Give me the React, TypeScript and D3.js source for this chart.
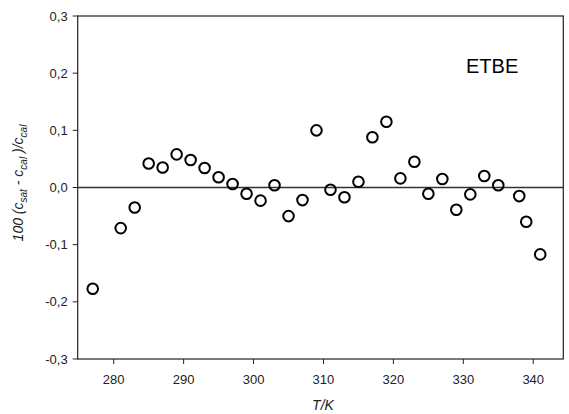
import React from "react";
import * as d3 from "d3";

const temperatures = [277, 281, 283, 285, 287, 289, 291, 293, 295, 297, 299, 301, 303, 305, 307, 309, 311, 313, 315, 317, 319, 321, 323, 325, 327, 329, 331, 333, 335, 338, 339, 341];
const deviations = [-0.177, -0.071, -0.035, 0.042, 0.035, 0.058, 0.048, 0.034, 0.018, 0.006, -0.011, -0.023, 0.004, -0.050, -0.022, 0.100, -0.004, -0.017, 0.010, 0.088, 0.115, 0.016, 0.045, -0.011, 0.015, -0.039, -0.012, 0.020, 0.004, -0.015, -0.060, -0.117];
const xTicks = [280, 290, 300, 310, 320, 330, 340];
const yTicks = [-0.3, -0.2, -0.1, 0.0, 0.1, 0.2, 0.3];
const label = "ETBE";

const W = 569;
const H = 414;
const left = 77.7;
const right = 563.3;
const top = 16;
const bottom = 359;

export default function App() {
  const x = d3.scaleLinear().domain([274.85, 344.3]).range([left, right]);
  const y = d3.scaleLinear().domain([-0.3, 0.3]).range([bottom, top]);
  const fmt = (v: number) => d3.format(".1f")(v).replace(".", ",").replace("−", "-");
  const font = "'Liberation Sans', Arial, sans-serif";
  const axisColor = "#222";
  return (
    <svg width={W} height={H} style={{ position: "absolute", left: 0, top: 0, background: "#fff" }} fontFamily={font}>
      <rect x={0} y={0} width={W} height={H} fill="#fff" />
      {/* frame */}
      <rect x={left} y={top} width={right - left} height={bottom - top} fill="none" stroke={axisColor} strokeWidth={1.2} />
      {/* zero line */}
      <line x1={left} x2={right} y1={y(0)} y2={y(0)} stroke="#333" strokeWidth={1.5} />
      {/* y ticks */}
      {yTicks.map((t) => (
        <g key={"y" + t}>
          <line x1={left - 5} x2={left} y1={y(t)} y2={y(t)} stroke={axisColor} strokeWidth={1} />
          <text x={left - 10} y={y(t)} dy="0.35em" textAnchor="end" fontSize={13} fill="#222">
            {fmt(t)}
          </text>
        </g>
      ))}
      {/* x ticks */}
      {xTicks.map((t) => (
        <g key={"x" + t}>
          <line x1={x(t)} x2={x(t)} y1={bottom} y2={bottom + 5} stroke={axisColor} strokeWidth={1} />
          <text x={x(t)} y={bottom + 25} textAnchor="middle" fontSize={13} fill="#222">
            {t}
          </text>
        </g>
      ))}
      {/* points */}
      {temperatures.map((t, i) => (
        <circle key={i} cx={x(t)} cy={y(deviations[i])} r={5.3} fill="none" stroke="#000" strokeWidth={2} />
      ))}
      {/* annotation */}
      <text x={466} y={73} fontSize={20} fill="#000">
        {label}
      </text>
      {/* x label */}
      <text x={323} y={410} textAnchor="middle" fontSize={14} fontStyle="italic" fill="#222">
        T/K
      </text>
      {/* y label */}
      <text transform={`translate(23,183) rotate(-90)`} textAnchor="middle" fontSize={14} fontStyle="italic" fill="#222">
        <tspan>100 (c</tspan>
        <tspan fontSize={10} dy={4}>sat</tspan>
        <tspan dy={-4}> - c</tspan>
        <tspan fontSize={10} dy={4}>cal</tspan>
        <tspan dy={-4}> )/c</tspan>
        <tspan fontSize={10} dy={4}>cal</tspan>
      </text>
    </svg>
  );
}
